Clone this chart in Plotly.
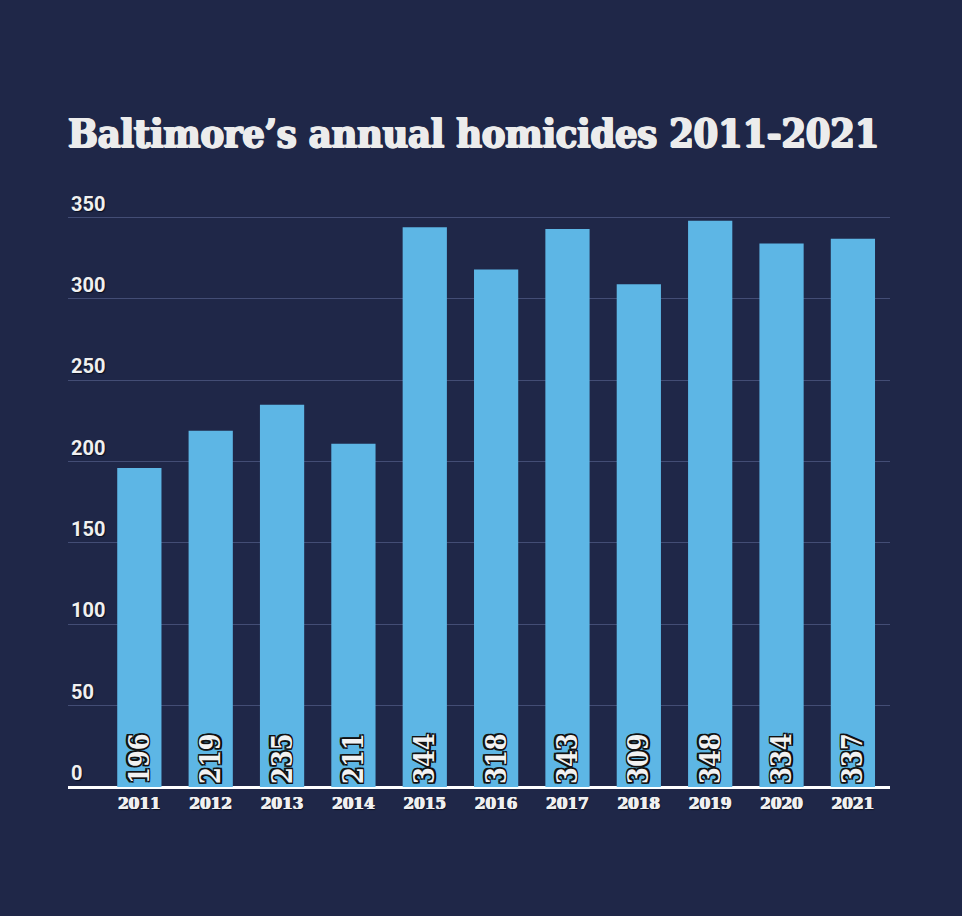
import plotly.graph_objects as go

years = [2011, 2012, 2013, 2014, 2015, 2016, 2017, 2018, 2019, 2020, 2021]
homicides = [196, 219, 235, 211, 344, 318, 343, 309, 348, 334, 337]
y_ticks = [0, 50, 100, 150, 200, 250, 300, 350]
title_text = "Baltimore’s annual homicides 2011-2021"

BG = "#1f2748"
BAR = "#5db6e5"
SERIF = "DejaVu Serif Condensed, DejaVu Serif, serif"

outline = ("1.5px 1.5px 0 #111, -1.5px -1.5px 0 #111, 1.5px -1.5px 0 #111, -1.5px 1.5px 0 #111, "
           "0 1.5px 0 #111, 0 -1.5px 0 #111, 1.5px 0 0 #111, -1.5px 0 0 #111")
thick_title = "1px 0 0 #ececec, -1px 0 0 #ececec, 0 1px 0 #ececec, 1px 1px 0 #ececec"
thick_small = "0.6px 0 0 #f0f0f0, -0.6px 0 0 #f0f0f0, 1px 1px 1px #0a0f20"

fig = go.Figure(go.Bar(
    x=years, y=homicides, width=0.62,
    marker=dict(color=BAR, line=dict(width=0)),
    text=[str(v) for v in homicides],
    textposition="inside", insidetextanchor="start", textangle=-90,
    textfont=dict(family=SERIF, size=27, color="#f2f2f2", weight="bold", shadow=outline),
    constraintext="none",
    hoverinfo="skip",
))

fig.update_layout(
    width=962, height=916,
    paper_bgcolor=BG, plot_bgcolor=BG,
    margin=dict(l=68, r=72, t=185, b=129),
    showlegend=False,
    title=dict(text=f"<b>{title_text}</b>", x=68/962, xanchor="left", xref="container",
               y=1 - 133/916, yanchor="middle", yref="container",
               font=dict(family=SERIF, size=39, color="#ececec", shadow=thick_title)),
    xaxis=dict(range=[2010.0, 2021.52], tickmode="array", tickvals=years,
               ticktext=[str(y) for y in years], showgrid=False, zeroline=False,
               showline=False, ticks="", ticklabelstandoff=4,
               tickfont=dict(family=SERIF, size=17, color="#f0f0f0", weight="bold",
                             shadow=thick_small)),
    yaxis=dict(range=[0, 370], tickmode="array", tickvals=y_ticks,
               ticktext=[str(v) for v in y_ticks], ticklabelposition="inside top",
               showgrid=True, gridcolor="#434d75", gridwidth=1.3,
               zeroline=True, zerolinecolor="#ffffff", zerolinewidth=2.5,
               showline=False, ticks="",
               tickfont=dict(family="Liberation Sans Narrow, Roboto, sans-serif", size=20,
                             color="#f0f0f0", weight="bold", shadow="1px 1px 1px #0a0f20")),
    bargap=0.38,
)

fig.write_html("out.html", config={"displayModeBar": False}, post_script=(
    "document.body.style.margin='0';"
    "document.body.style.background='#1f2748';"
))
